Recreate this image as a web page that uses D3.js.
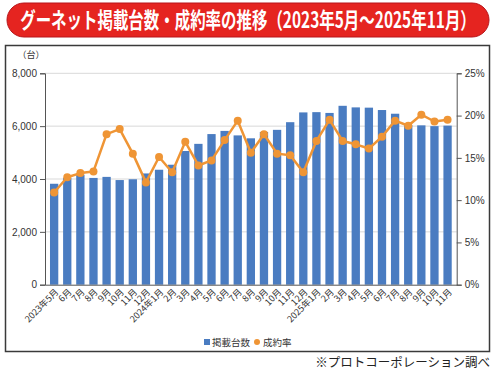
<!DOCTYPE html>
<html><head><meta charset="utf-8">
<script src="https://cdn.jsdelivr.net/npm/d3@7"></script>
<style>
body{margin:0;background:#fff;}
text{font-family:"Liberation Sans",Arial,"Noto Sans CJK JP",sans-serif;}
.jp{font-family:"Noto Sans CJK JP",sans-serif;}
</style></head>
<body><svg id="c" width="492" height="372"></svg>
<script>
const categories = ["2023年5月","2023年6月","2023年7月","2023年8月","2023年9月","2023年10月","2023年11月","2023年12月",
"2024年1月","2024年2月","2024年3月","2024年4月","2024年5月","2024年6月","2024年7月","2024年8月","2024年9月","2024年10月","2024年11月","2024年12月",
"2025年1月","2025年2月","2025年3月","2025年4月","2025年5月","2025年6月","2025年7月","2025年8月","2025年9月","2025年10月","2025年11月"];
const tickLabels = ["2023年5月","6月","7月","8月","9月","10月","11月","12月",
"2024年1月","2月","3月","4月","5月","6月","7月","8月","9月","10月","11月","12月",
"2025年1月","2月","3月","4月","5月","6月","7月","8月","9月","10月","11月"];
const listings = [3820,4040,4160,4040,4080,3960,3990,4210,4350,4540,5060,5330,5700,5820,5650,5540,5780,5860,6150,6520,6530,6500,6770,6710,6700,6610,6470,6040,6030,6000,6020];
const closeRate = [10.9,12.7,13.2,13.4,17.8,18.4,15.5,12.1,15.1,13.3,16.9,14.1,14.7,17.1,19.4,15.6,17.8,15.5,15.3,13.3,17.0,19.5,17.0,16.6,16.1,17.5,19.4,18.8,20.1,19.3,19.5];
const leftTicks = [0,2000,4000,6000,8000];
const rightTicks = [0,5,10,15,20,25];
const title = "グーネット掲載台数・成約率の推移（2023年5月～2025年11月）";
const legendLabels = ["掲載台数","成約率"];
const yUnit = "（台）";
const footnote = "※プロトコーポレーション調べ";

const svg = d3.select("#c");
const L = 45, R = 456.7, T = 73.3, B = 284.7;
const barColor = "#4a7cc1", lineColor = "#ef9535";

// title banner
svg.append("rect").attr("x",7).attr("y",3).attr("width",482).attr("height",34).attr("rx",17)
  .attr("fill","#e52420").attr("stroke","#b8151a").attr("stroke-width",1);
const tg = svg.append("g");
const tt = tg.append("text").attr("class","jp").attr("x",0).attr("y",0).attr("text-anchor","middle")
  .attr("font-size",22).attr("font-weight","bold").attr("fill","#fff").text(title);
const natural = tt.node().getComputedTextLength();
tg.attr("transform",`translate(248,28) scale(${456/natural},1)`);

// frame
svg.append("rect").attr("x",5.5).attr("y",45.5).attr("width",484).attr("height",306)
  .attr("fill","none").attr("stroke","#3a3a3a").attr("stroke-width",1.5);

const x = d3.scaleBand().domain(categories).range([L,R]).paddingInner(0.367).paddingOuter(0.38);
const yL = d3.scaleLinear().domain([0,8000]).range([B,T]);
const yR = d3.scaleLinear().domain([0,25]).range([B,T]);

// gridlines
svg.append("g").selectAll("line").data(leftTicks.filter(d=>d>0)).join("line")
  .attr("x1",L).attr("x2",R).attr("y1",d=>yL(d)).attr("y2",d=>yL(d))
  .attr("stroke","#d9d9d9").attr("stroke-width",1);

// bars
svg.append("g").selectAll("rect").data(listings).join("rect")
  .attr("x",(d,i)=>x(categories[i])).attr("width",x.bandwidth())
  .attr("y",d=>yL(d)).attr("height",d=>B-yL(d)).attr("fill",barColor);

// axes
const gL = svg.append("g").attr("transform",`translate(${L},0)`)
  .call(d3.axisLeft(yL).tickValues(leftTicks).tickFormat(d3.format(",")).tickSize(5).tickPadding(3));
const gR = svg.append("g").attr("transform",`translate(${R},0)`)
  .call(d3.axisRight(yR).tickValues(rightTicks).tickFormat(d=>d+"%").tickSize(5).tickPadding(3));
[gL,gR].forEach(g=>{
  g.select(".domain").attr("stroke","#555");
  g.selectAll(".tick line").attr("stroke","#555");
  g.selectAll(".tick text").attr("font-size",10).attr("fill","#333");
});
const gB = svg.append("g").attr("transform",`translate(0,${B})`)
  .call(d3.axisBottom(x).tickSize(0).tickFormat((d,i)=>tickLabels[i]));
gB.select(".domain").attr("stroke","#555");
gB.selectAll(".tick text").attr("class","jp").attr("font-size",9).attr("fill","#333")
  .attr("text-anchor","end").attr("y",0).attr("dy",0)
  .attr("transform","translate(5,8) rotate(-45)");

// line
const line = d3.line().x((d,i)=>x(categories[i])+x.bandwidth()/2).y(d=>yR(d));
svg.append("path").datum(closeRate).attr("d",line).attr("fill","none")
  .attr("stroke",lineColor).attr("stroke-width",2.5).attr("stroke-linejoin","round");
svg.append("g").selectAll("circle").data(closeRate).join("circle")
  .attr("cx",(d,i)=>x(categories[i])+x.bandwidth()/2).attr("cy",d=>yR(d)).attr("r",4)
  .attr("fill",lineColor);

// unit
svg.append("text").attr("class","jp").attr("x",31).attr("y",58).attr("text-anchor","middle")
  .attr("font-size",9).attr("fill","#333").text(yUnit);

// legend
svg.append("rect").attr("x",204).attr("y",339).attr("width",6).attr("height",6).attr("fill",barColor);
svg.append("text").attr("class","jp").attr("x",212).attr("y",345.5).attr("font-size",9.5).attr("fill","#333").text(legendLabels[0]);
svg.append("circle").attr("cx",257).attr("cy",342).attr("r",3).attr("fill",lineColor);
svg.append("text").attr("class","jp").attr("x",263).attr("y",345.5).attr("font-size",9.5).attr("fill","#333").text(legendLabels[1]);

// footnote
svg.append("text").attr("class","jp").attr("x",490).attr("y",367).attr("text-anchor","end")
  .attr("font-size",12.5).attr("fill","#222").text(footnote);
</script></body></html>
